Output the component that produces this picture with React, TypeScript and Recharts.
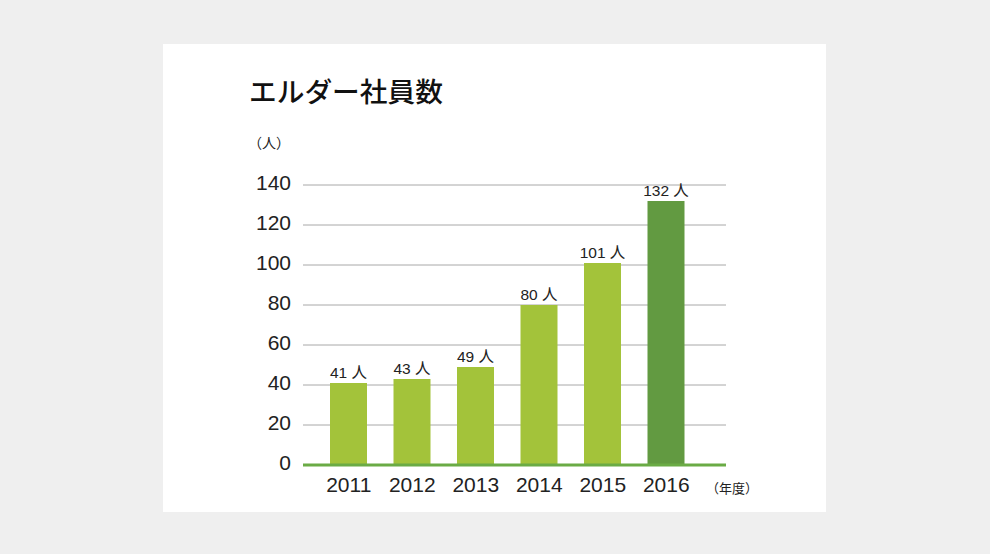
import React from "react";
import {
  BarChart,
  Bar,
  Cell,
  XAxis,
  YAxis,
  CartesianGrid,
  LabelList,
} from "recharts";

// 年度ごとのエルダー社員数
const years = ["2011", "2012", "2013", "2014", "2015", "2016"];
const staff = [41, 43, 49, 80, 101, 132];
const yTicks = [0, 20, 40, 60, 80, 100, 120, 140];
const highlightYear = "2016";

const data = years.map((year, i) => ({ year, staff: staff[i] }));

const LIGHT = "#a3c33a";
const DARK = "#629a41";
const AXIS = "#6aab45";
const NUM_FONT = "'Liberation Sans', Arial, 'Noto Sans CJK JP', sans-serif";
const JP_FONT = "'Noto Sans CJK JP', sans-serif";

// value label above each bar, e.g. "41 人" (no wrapping)
const ValueLabel = (props: any) => {
  const { x, y, width, value } = props;
  return (
    <text
      x={Number(x) + Number(width) / 2}
      y={Number(y) - 5}
      textAnchor="middle"
      fontSize={15.5}
      fill="#222"
      fontFamily={NUM_FONT}
    >
      {`${value} 人`}
    </text>
  );
};

export default function App() {
  return (
    <div
      style={{
        position: "absolute",
        left: 0,
        top: 0,
        width: 990,
        height: 554,
        background: "#efefef",
      }}
    >
      <div
        style={{
          position: "absolute",
          left: 163,
          top: 44,
          width: 663,
          height: 468,
          background: "#fff",
        }}
      >
        {/* title */}
        <div
          style={{
            position: "absolute",
            left: 86,
            top: 26,
            fontFamily: JP_FONT,
            fontSize: 27.7,
            fontWeight: 500,
            color: "#111",
            whiteSpace: "nowrap",
          }}
        >
          エルダー社員数
        </div>
        {/* unit */}
        <div
          style={{
            position: "absolute",
            left: 85,
            top: 88,
            fontFamily: JP_FONT,
            fontSize: 14,
            color: "#222",
            whiteSpace: "nowrap",
          }}
        >
          （人）
        </div>
        <div
          style={{
            position: "absolute",
            left: 543,
            top: 434,
            fontFamily: JP_FONT,
            fontSize: 13,
            color: "#222",
            whiteSpace: "nowrap",
          }}
        >
          （年度）
        </div>

        <div style={{ position: "absolute", left: 0, top: 0 }}>
          <BarChart
            width={663}
            height={468}
            data={data}
            margin={{ top: 141, right: 100, bottom: 0, left: 0 }}
          >
            <CartesianGrid vertical={false} stroke="#a8a8a8" strokeWidth={1} />
            <YAxis
              width={140}
              domain={[0, 140]}
              ticks={yTicks}
              axisLine={false}
              tickLine={false}
              tickSize={0}
              tickMargin={12}
              tick={{ fontSize: 21, fill: "#222", fontFamily: NUM_FONT, dy: -2 }}
            />
            <XAxis
              dataKey="year"
              height={47}
              padding={{ left: 14, right: 28 }}
              axisLine={{ stroke: AXIS, strokeWidth: 3 }}
              tickLine={false}
              tickSize={0}
              tickMargin={12}
              tick={{ fontSize: 21, fill: "#222", fontFamily: NUM_FONT }}
            />
            <Bar dataKey="staff" barSize={37} isAnimationActive={false}>
              {data.map((d) => (
                <Cell key={d.year} fill={d.year === highlightYear ? DARK : LIGHT} />
              ))}
              <LabelList dataKey="staff" content={ValueLabel} />
            </Bar>
          </BarChart>
        </div>
      </div>
    </div>
  );
}
